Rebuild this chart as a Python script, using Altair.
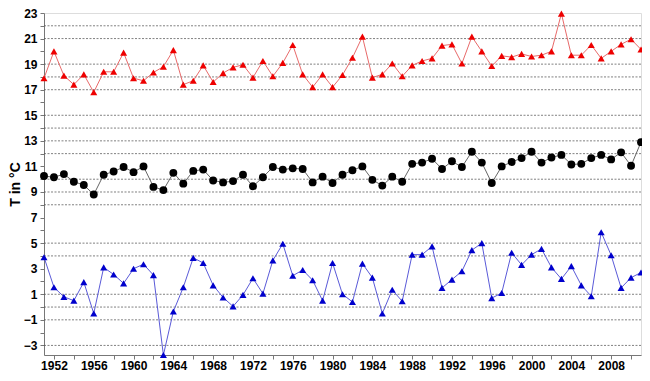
import altair as alt
import pandas as pd

years = list(range(1951, 2012))

red_vals = [17.9, 20.0, 18.1, 17.4, 18.2, 16.8, 18.4, 18.4, 19.9, 17.9,
            17.7, 18.35, 18.8, 20.1, 17.4, 17.7, 18.9, 17.6, 18.3, 18.75,
            18.95, 17.95, 19.25, 18.05, 19.1, 20.5, 18.2, 17.2, 18.2, 17.2,
            18.15, 19.5, 21.15, 17.95, 18.2, 19.05, 18.05, 18.9, 19.25, 19.45,
            20.45, 20.55, 19.05, 21.15, 20.0, 18.85, 19.65, 19.55, 19.8, 19.6,
            19.7, 20.0, 22.95, 19.7, 19.7, 20.5, 19.45, 20.0, 20.55, 20.95,
            20.15]

black_vals = [10.25, 10.15, 10.4, 9.8, 9.55, 8.8, 10.35, 10.6, 10.95, 10.55,
              11.0, 9.4, 9.15, 10.5, 9.65, 10.65, 10.75, 9.9, 9.75, 9.85,
              10.35, 9.45, 10.15, 10.95, 10.75, 10.85, 10.8, 9.75, 10.2, 9.7,
              10.35, 10.7, 11.0, 9.95, 9.5, 10.2, 9.8, 11.2, 11.3, 11.6,
              10.8, 11.4, 10.95, 12.15, 11.3, 9.7, 11.0, 11.35, 11.65, 12.15,
              11.3, 11.7, 11.9, 11.15, 11.2, 11.65, 11.9, 11.55, 12.1, 11.05,
              12.9]

blue_vals = [3.9, 1.55, 0.8, 0.5, 1.95, -0.5, 3.1, 2.55, 1.85, 3.0,
             3.35, 2.5, -3.75, -0.35, 1.55, 3.85, 3.45, 1.7, 0.75, 0.05,
             0.95, 2.25, 1.05, 3.65, 4.95, 2.45, 2.9, 2.1, 0.5, 3.45,
             1.0, 0.4, 3.4, 2.3, -0.5, 1.35, 0.45, 4.1, 4.1, 4.75,
             1.5, 2.15, 2.8, 4.45, 5.0, 0.7, 1.1, 4.25, 3.3, 4.1,
             4.55, 3.1, 2.2, 3.2, 1.7, 0.85, 5.85, 4.05, 1.5, 2.3,
             2.7]

grid_values = [22, 21, 19, 18, 17, 15, 14, 13, 12, 10, 9, 8, 5, 4, 1, 0, -1, -3]
y_tick_values = list(range(-3, 24))
x_tick_values = list(range(1952, 2011, 2))

series = [
    ("max", red_vals, "#ee0000", "#e86a6a", "triangle-up", 50),
    ("mean", black_vals, "#000000", "#666666", "circle", 62),
    ("min", blue_vals, "#0000cc", "#5a5ad8", "triangle-up", 50),
]

FONT = "Liberation Sans"
x_scale = alt.Scale(domain=[1951, 2011], nice=False, zero=False)
y_scale = alt.Scale(domain=[-3.75, 23], nice=False, zero=False)

x_axis = alt.Axis(values=x_tick_values, format="d", grid=False,
                  labelExpr="datum.value % 4 == 0 ? datum.label : ''",
                  tickSize=4, labelPadding=1, title=None,
                  labelFont=FONT, labelFontSize=12, labelFontWeight="bold",
                  labelColor="#000000", domainColor="#777777",
                  tickColor="#777777")
y_axis = alt.Axis(values=y_tick_values, grid=False,
                  labelExpr="datum.value % 2 != 0 ? datum.label : ''",
                  tickSize=4, labelPadding=3, title="T in °C", titlePadding=1,
                  labelFont=FONT, labelFontSize=12, labelFontWeight="bold",
                  labelColor="#000000", titleFont=FONT, titleFontSize=14,
                  titleFontWeight="bold", titleColor="#000000",
                  domainColor="#777777", tickColor="#777777")

grid = alt.Chart(pd.DataFrame({"g": grid_values})).mark_rule(
    color="#555555", strokeWidth=1, strokeDash=[2, 1.5], opacity=0.75
).encode(y=alt.Y("g:Q", scale=y_scale, axis=y_axis))

layers = [grid]
for name, vals, mcol, lcol, shape, size in series:
    df = pd.DataFrame({"year": years, "T": vals})
    base = alt.Chart(df).encode(
        x=alt.X("year:Q", scale=x_scale, axis=x_axis),
        y=alt.Y("T:Q", scale=y_scale, axis=y_axis),
    )
    layers.append(base.mark_line(color=lcol, strokeWidth=1))
    layers.append(base.mark_point(shape=shape, size=size, filled=True,
                                  color=mcol, opacity=1, clip=False))

chart = alt.layer(*layers).properties(
    width=597, height=342,
    autosize=alt.AutoSizeParams(type="none"),
    padding={"left": 36, "top": 5, "right": 1, "bottom": 18},
).configure_view(
    stroke="#777777", strokeWidth=1
).configure(background="#ffffff")

chart.save("out.html", embed_options={"renderer": "svg", "actions": False})
